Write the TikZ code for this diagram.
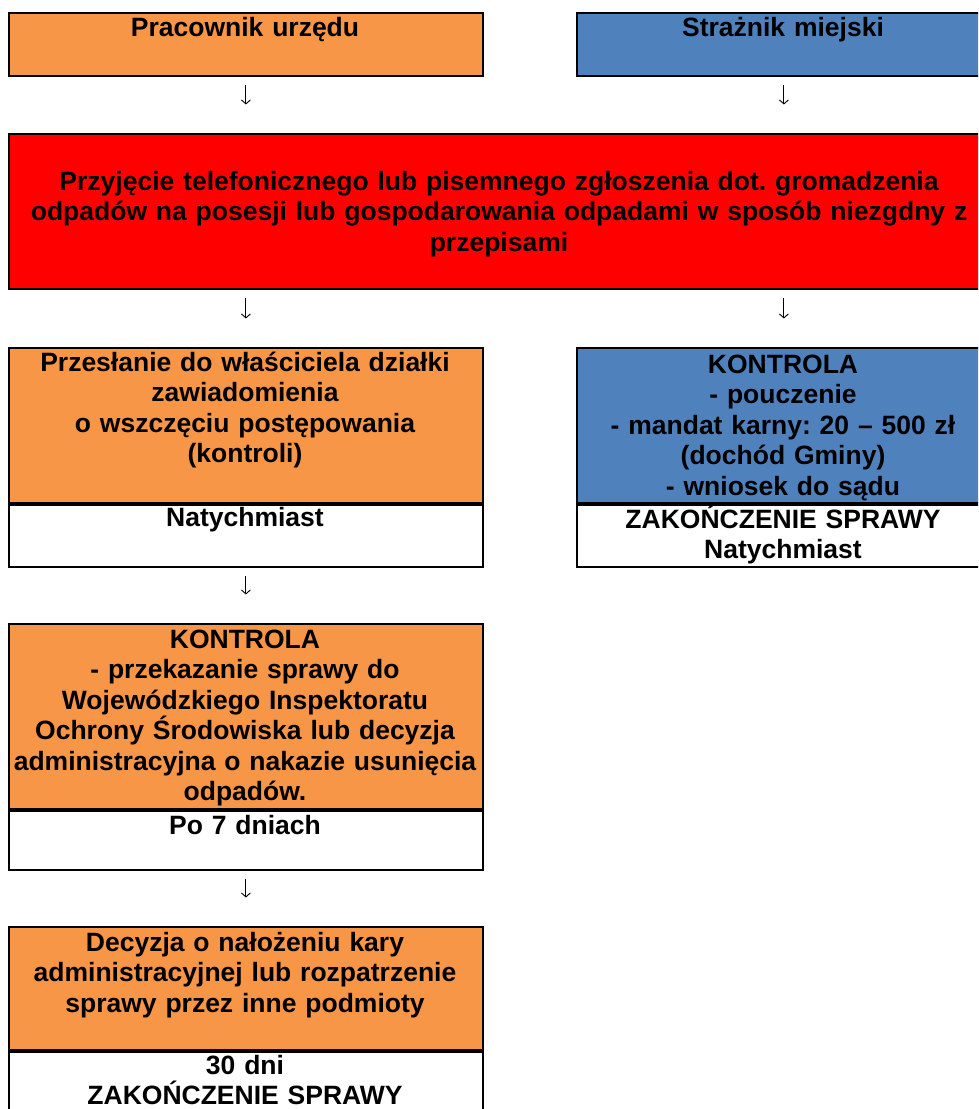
\documentclass[tikz,border=0pt]{standalone}
\usepackage{fontspec}
\setmainfont{Liberation Sans}
\usetikzlibrary{arrows.meta}
\definecolor{urzad}{HTML}{F79646}
\definecolor{strazc}{HTML}{4F81BD}
\frenchspacing
\def\LeftC{245}
\def\RightC{783}
\def\WideL{474pt}
\def\WideR{414pt}
\tikzset{
  box/.style={draw, line width=1.8pt, rectangle, anchor=north west, inner sep=0pt},
  txt/.style={anchor=base, inner sep=0pt, align=center, text width=#1,
    font=\bfseries\fontsize{26.5}{30.5}\selectfont},
  txt/.default=540pt,
  arr/.style={-{Straight Barb[length=4pt,width=9pt]}, line width=0.9pt,
    shorten <=8.5pt, shorten >=28.5pt},
}

\begin{document}
\begin{tikzpicture}[x=1pt,y=-1pt]
  \useasboundingbox (0,0) rectangle (978,1109);
  \clip (0,0) rectangle (978,1109);
  % top row
  \node[box, fill=urzad, minimum width=\WideL, minimum height=63pt] (prac) at (8,12) {};
  \node[box, fill=strazc, minimum width=\WideR, minimum height=63pt] (straz) at (576,12) {};
  % zgloszenie
  \node[box, fill=red, minimum width=982pt, minimum height=155pt] (zgl) at (8,133) {};
  % left column
  \node[box, fill=urzad, minimum width=\WideL, minimum height=155pt] (przes) at (8,347) {};
  \node[box, fill=white, minimum width=\WideL, minimum height=62pt] (przesT) at (przes.south west) {};
  \node[box, fill=urzad, minimum width=\WideL, minimum height=185pt] (kontrB) at (8,623) {};
  \node[box, fill=white, minimum width=\WideL, minimum height=59pt] (kontrBT) at (kontrB.south west) {};
  \node[box, fill=urzad, minimum width=\WideL, minimum height=123pt] (decyz) at (8,926) {};
  \node[box, fill=white, minimum width=\WideL, minimum height=100pt] (decyzT) at (decyz.south west) {};
  % right column
  \node[box, fill=strazc, minimum width=\WideR, minimum height=155pt] (kontrA) at (576,347) {};
  \node[box, fill=white, minimum width=\WideR, minimum height=62pt] (kontrAT) at (kontrA.south west) {};
  % arrows
  \draw[arr] (prac.south) -- (prac.south |- zgl.north);
  \draw[arr] (straz.south) -- (straz.south |- zgl.north);
  \draw[arr] (zgl.south -| przes.north) -- (przes.north);
  \draw[arr] (zgl.south -| kontrA.north) -- (kontrA.north);
  \draw[arr] (przesT.south) -- (kontrB.north);
  \draw[arr] (kontrBT.south) -- (decyz.north);
  % labels
  \node[txt] (prac-t) at (\LeftC,36) {Pracownik urzędu};
  \node[txt] (straz-t) at (\RightC,36) {Strażnik miejski};
  \node[txt=960pt] (zgl-t) at (499,190) {Przyjęcie telefonicznego lub pisemnego zgłoszenia dot. gromadzenia\\
    odpadów na posesji lub gospodarowania odpadami w sposób niezgdny z\\ przepisami};
  \node[txt] (przes-t) at (\LeftC,371) {Przesłanie do właściciela działki\\ zawiadomienia\\
    o wszczęciu postępowania\\ (kontroli)};
  \node[txt] (przesT-t) at (\LeftC,526) {Natychmiast};
  \node[txt=460pt] (kontrA-t) at (\RightC,373) {KONTROLA\\ - pouczenie\\
    - mandat karny: 20 – 500 zł\\ (dochód Gminy)\\ - wniosek do sądu};
  \node[txt=460pt] (kontrAT-t) at (\RightC,528) {ZAKOŃCZENIE SPRAWY\\ Natychmiast};
  \node[txt] (kontrB-t) at (\LeftC,648) {KONTROLA\\ - przekazanie sprawy do\\
    Wojewódzkiego Inspektoratu\\ Ochrony Środowiska lub decyzja\\
    administracyjna o nakazie usunięcia\\ odpadów.};
  \node[txt] (kontrBT-t) at (\LeftC,834) {Po 7 dniach};
  \node[txt] (decyz-t) at (\LeftC,951) {Decyzja o nałożeniu kary\\
    administracyjnej lub rozpatrzenie\\ sprawy przez inne podmioty};
  \node[txt] (decyzT-t) at (\LeftC,1074) {30 dni\\ ZAKOŃCZENIE SPRAWY};
\end{tikzpicture}
\end{document}
